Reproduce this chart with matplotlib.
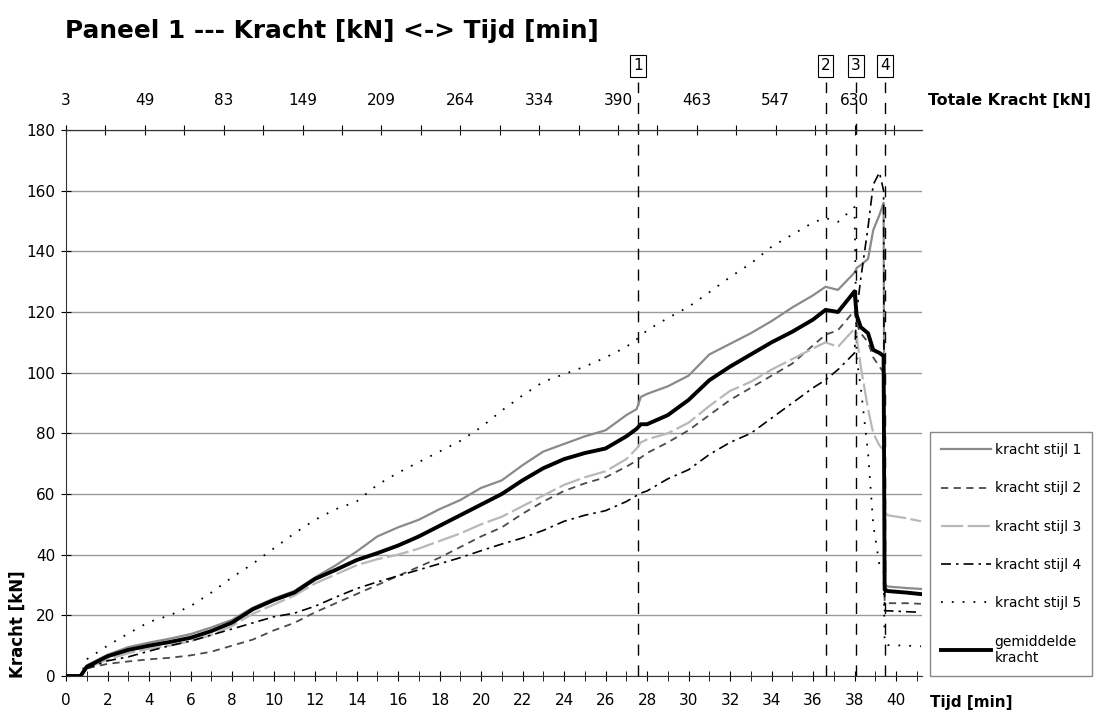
import matplotlib
matplotlib.use('Agg')
from matplotlib import pyplot as plt
from matplotlib.transforms import blended_transform_factory

# time grid in minutes
tijd = [0, 0.7, 1, 2, 3, 4, 5, 6, 7, 8, 9, 10, 11, 12, 13, 14, 15, 16, 17, 18, 19, 20,
        21, 22, 23, 24, 25, 26, 27, 27.5, 27.7, 28, 29, 30, 31, 32, 33, 34, 35, 36, 36.6,
        37.2, 38.0, 38.1, 38.3, 38.65, 38.9, 39.2, 39.4, 39.45, 39.6, 40.5, 41.2]

stijl_1 = [0, 0, 3.5, 7, 9.5, 11, 12.3, 13.8, 16, 18.5, 22.5, 25.5, 28, 32.5, 36.5, 41, 46, 49,
           51.5, 55, 58, 62, 64.5, 69.5, 74, 76.5, 79, 81, 86, 88, 92, 93, 95.5, 99, 106,
           109.5, 113, 117, 121.5, 125.5, 128.3, 127.3, 133, 134.5, 135.5, 137.5, 147, 152,
           156, 30, 29.5, 29, 28.7]
stijl_2 = [0, 0, 2.5, 4, 4.8, 5.5, 6, 6.8, 8, 10, 12, 15, 17.5, 21, 24, 27, 30, 33, 36, 39,
           42.5, 46, 49, 53.5, 57.5, 61, 63.5, 65.5, 69, 71, 72, 73.5, 77, 81, 86, 91, 95, 99,
           103, 109, 112.5, 114, 120.5, 116, 113, 110, 105, 102, 100, 24.5, 24, 24, 23.8]
stijl_3 = [0, 0, 2.5, 5.5, 7.5, 9, 10, 11.5, 13.5, 16.5, 20.5, 23.5, 26.5, 30.5, 33.5, 36.5,
           38.5, 40, 42, 44.5, 47, 50, 52.5, 56, 59.5, 63, 65.5, 67.5, 71.5, 75, 77, 78, 80,
           83.5, 89, 94, 97, 101, 104.5, 108, 110, 108.5, 114.5, 112, 102, 88, 80, 76, 74.5,
           54, 53, 52, 51]
stijl_4 = [0, 0, 2.5, 5, 6.3, 8.2, 10, 11.5, 13.5, 15.5, 17.5, 19.5, 20.7, 23, 26, 28.8, 31,
           33, 35, 37, 39, 41.3, 43.5, 45.5, 48, 51, 53, 54.5, 57.5, 59.5, 60.3, 61, 65, 68,
           73, 77, 80, 85, 90, 95, 97.6, 101, 106.5, 120, 131, 148, 162, 166, 160, 21.5, 21.5,
           21.2, 21]
stijl_5 = [0, 0, 5.5, 10, 14, 17.8, 20, 23, 27.5, 32.5, 37, 42, 47, 51.5, 55, 57.5, 63, 67,
           70.5, 74, 77.5, 82, 87.5, 92.5, 97, 99.5, 102, 105, 108.5, 111, 112, 114, 118,
           121.7, 126.5, 131.5, 136, 141.5, 145.5, 149.5, 151, 149.7, 154.6, 105, 95, 73.5, 50,
           36.5, 35, 10.5, 10.2, 10, 9.8]
gemiddeld = [0, 0, 3, 6.5, 8.6, 10, 11.2, 12.6, 14.8, 17.6, 22, 25, 27.5, 32, 35, 38.2, 40.5,
             43, 46, 49.5, 53, 56.5, 60, 64.5, 68.5, 71.5, 73.5, 75, 79, 81.5, 83, 83, 86, 91,
             97.5, 102, 106, 110, 113.5, 117.5, 120.7, 120, 126.8, 119, 115, 113, 107.5, 106.5,
             105.5, 28.5, 28, 27.5, 27]

# secondary (top) axis labels: totale kracht
totale_kracht = ['3', '49', '83', '149', '209', '264', '334', '390', '463', '547', '630']

# event markers
marker_tijd = [27.55, 36.6, 38.05, 39.45]
marker_label = ['1', '2', '3', '4']

plt.rcParams['font.family'] = 'DejaVu Sans'

fig = plt.figure(figsize=(10.98, 7.13), dpi=100)
ax = fig.add_axes([66 / 1098, 1 - 676 / 713, (922 - 66) / 1098, (676 - 130) / 713])

ax.plot(tijd, stijl_1, color='#8a8a8a', lw=1.6, zorder=3, label='kracht stijl 1')
ax.plot(tijd, stijl_2, color='#4a4a4a', lw=1.3, dashes=(4, 3), zorder=3, label='kracht stijl 2')
ax.plot(tijd, stijl_3, color='#b8b8b8', lw=1.6, dashes=(10, 2), zorder=3, label='kracht stijl 3')
ax.plot(tijd, stijl_4, color='black', lw=1.2, dashes=(6, 3, 1.5, 3), zorder=3, label='kracht stijl 4')
ax.plot(tijd, stijl_5, color='black', lw=1.3, dashes=(1, 5), zorder=3, label='kracht stijl 5')
ax.plot(tijd, gemiddeld, color='black', lw=2.8, zorder=4, label='gemiddelde\nkracht')

ax.set_xlim(0, 41.25)
ax.set_ylim(0, 180)
ax.set_xticks(range(0, 41, 2))
ax.set_xticks(range(0, 42), minor=True)
ax.set_yticks(range(0, 181, 20))
ax.grid(axis='y', color='#9a9a9a', lw=1, zorder=1)

ax.spines['right'].set_visible(False)
for s in ['left', 'bottom', 'top']:
    ax.spines[s].set_color('#333333')
ax.tick_params(axis='x', which='both', direction='inout', length=7, labelsize=11, pad=9)
ax.tick_params(axis='y', direction='inout', length=7, labelsize=11, pad=4)

# top axis with total force
sec = ax.secondary_xaxis('top')
top_pos = [k * 1.9 for k in range(22)]
sec.set_xticks(top_pos)
sec.set_xticklabels([totale_kracht[k // 2] if k % 2 == 0 else '' for k in range(22)])
sec.tick_params(direction='inout', length=7, labelsize=11, pad=12)
sec.spines['top'].set_color('#333333')

# event markers
trans = blended_transform_factory(ax.transData, fig.transFigure)
for t, lab in zip(marker_tijd, marker_label):
    ax.axvline(t, ymin=0, ymax=1.088, color='black', lw=1, dashes=(8, 7),
               clip_on=False, zorder=2)
    ax.text(t, 1 - 66 / 713, lab, transform=trans, ha='center', va='center', fontsize=11,
            bbox=dict(boxstyle='square,pad=0.2', fc='white', ec='black', lw=0.8))

fig.text(65 / 1098, 1 - 31 / 713, 'Paneel 1 --- Kracht [kN] <-> Tijd [min]',
         fontsize=17.8, fontweight='bold', ha='left', va='center')
fig.text(18 / 1098, 1 - 624 / 713, 'Kracht [kN]', rotation=90, fontsize=12,
         fontweight='bold', ha='center', va='center')
fig.text(930 / 1098, 1 - 703 / 713, 'Tijd [min]', fontsize=11, fontweight='bold',
         ha='left', va='center')
fig.text(928 / 1098, 1 - 101 / 713, 'Totale Kracht [kN]', fontsize=11.4, fontweight='bold',
         ha='left', va='center')

leg = ax.legend(loc='upper left', bbox_to_anchor=(930 / 1098, 1 - 432 / 713),
                bbox_transform=fig.transFigure, fontsize=10, handlelength=3.6,
                labelspacing=1.75, borderpad=0.8, handletextpad=0.25, fancybox=False,
                framealpha=1, edgecolor='#888888', borderaxespad=0)

fig.savefig('out.png', dpi=100, facecolor='white')
